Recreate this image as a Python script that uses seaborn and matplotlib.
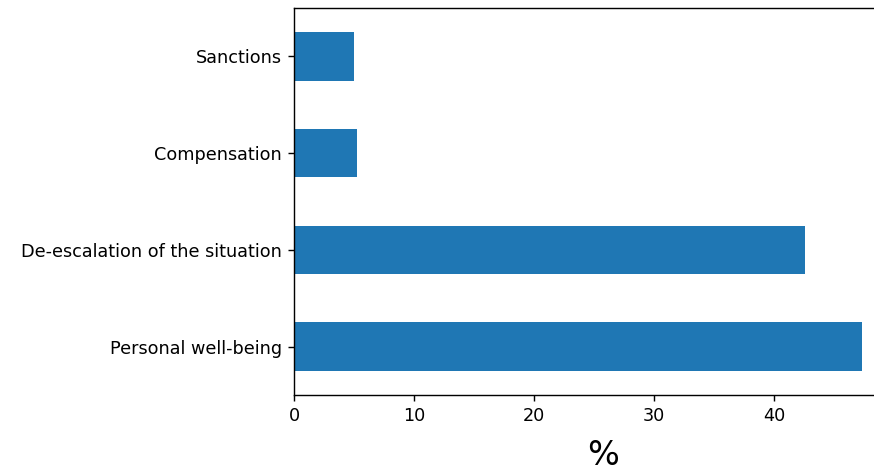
import matplotlib
matplotlib.use("Agg")
import matplotlib.pyplot as plt
import seaborn as sns
import pandas as pd

# Reasons (top to bottom) and share in %
categories = ['Sanctions', 'Compensation', 'De-escalation of the situation', 'Personal well-being']
values = [5.0, 5.25, 42.6, 47.3]

df = pd.DataFrame({'reason': categories, 'pct': values})

# original looks rendered at ~127 dpi
DPI = 127
fig = plt.figure(figsize=(874 / DPI, 469 / DPI), dpi=DPI)
# axes runs past the right edge, as in the original crop
ax = fig.add_axes([294 / 874, 74 / 469, 618 / 874, 387 / 469])

sns.barplot(data=df, y='reason', x='pct', orient='h', color='#1f77b4',
            saturation=1, width=0.5, ax=ax)

ax.set_ylabel('')
ax.set_xlabel('%', fontsize=19, labelpad=8)
ax.set_xlim(0, 51.5)
ax.set_xticks([0, 10, 20, 30, 40])

fig.savefig('out.png', dpi=DPI)
